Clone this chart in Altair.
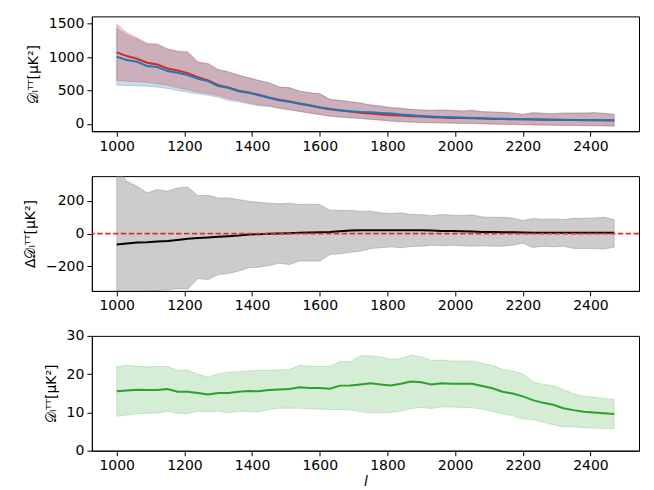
import altair as alt
import pandas as pd

ell = [1000, 1030, 1060, 1090, 1120, 1150, 1180, 1210, 1240, 1270,
       1300, 1330, 1360, 1390, 1420, 1450, 1480, 1510, 1540, 1570,
       1600, 1630, 1660, 1690, 1720, 1750, 1780, 1810, 1840, 1870,
       1900, 1930, 1960, 1990, 2020, 2050, 2080, 2110, 2140, 2170,
       2200, 2230, 2260, 2290, 2320, 2350, 2380, 2410, 2440, 2470]

# Top panel: two spectra (red, blue) with bands
red_mid = [1070, 1015, 975, 915, 890, 830, 800, 760, 700, 650,
           580, 545, 495, 470, 435, 395, 360, 335, 305, 278,
           245, 220, 200, 185, 165, 155, 140, 130, 125, 115,
           110, 100, 95, 90, 88, 85, 80, 75, 72, 70,
           68, 66, 64, 62, 60, 58, 56, 55, 54, 52]
red_hi = [1490, 1365, 1290, 1205, 1200, 1125, 1090, 1080, 930, 905,
          815, 780, 730, 690, 650, 615, 550, 540, 490, 465,
          450, 365, 350, 330, 310, 280, 265, 240, 230, 215,
          205, 200, 205, 200, 190, 200, 180, 175, 170, 160,
          140, 165, 155, 150, 160, 160, 160, 165, 155, 140]
red_lo = [650, 640, 630, 625, 600, 580, 540, 510, 475, 455,
          425, 380, 350, 315, 285, 270, 240, 215, 190, 165,
          140, 115, 100, 90, 80, 65, 55, 40, 30, 25,
          20, 15, 12, 10, 5, 5, 0, -5, -8, -10,
          -15, -18, -20, -22, -25, -25, -28, -30, -32, -35]
blue_mid = [1005, 955, 930, 865, 850, 790, 765, 730, 675, 640,
            565, 540, 490, 465, 430, 390, 355, 330, 300, 275,
            245, 225, 205, 190, 180, 175, 165, 155, 140, 130,
            120, 110, 105, 100, 95, 90, 85, 80, 78, 75,
            70, 68, 66, 64, 62, 60, 58, 57, 56, 55]
blue_hi = [1430, 1330, 1270, 1190, 1185, 1115, 1080, 1070, 920, 895,
           810, 778, 728, 690, 650, 617, 553, 543, 493, 468,
           452, 368, 353, 333, 314, 285, 270, 245, 235, 220,
           210, 205, 210, 205, 195, 205, 185, 180, 175, 165,
           145, 170, 160, 155, 165, 165, 165, 170, 160, 145]
blue_lo = [580, 575, 570, 565, 550, 530, 500, 475, 450, 430,
           400, 350, 330, 300, 270, 260, 232, 208, 185, 160,
           140, 118, 104, 95, 85, 70, 60, 46, 36, 30,
           25, 20, 17, 15, 10, 10, 5, 0, -3, -5,
           -10, -13, -15, -17, -20, -20, -23, -25, -27, -30]

# Middle panel: difference with band
diff_mid = [-67, -61, -55, -53, -49, -45, -39, -32, -28, -24,
            -20, -16, -12, -6, -4, -2, 0, 2, 4, 6,
            8, 10, 14, 18, 20, 20, 20, 20, 20, 20,
            20, 18, 16, 16, 14, 12, 10, 10, 8, 8,
            6, 4, 4, 4, 4, 4, 4, 4, 4, 4]
diff_hi = [390, 319, 288, 248, 268, 258, 278, 284, 231, 233,
           217, 217, 207, 197, 191, 185, 181, 185, 177, 179,
           177, 142, 142, 140, 136, 136, 126, 122, 126, 116,
           116, 108, 116, 112, 110, 114, 101, 99, 99, 95,
           79, 91, 87, 89, 85, 93, 93, 95, 99, 85]
diff_lo = [-430, -395, -365, -352, -348, -343, -336, -338, -274, -280,
           -250, -244, -229, -209, -205, -195, -181, -189, -168, -168,
           -168, -128, -124, -114, -108, -91, -87, -81, -87, -79,
           -77, -71, -75, -71, -75, -77, -75, -77, -77, -71,
           -59, -85, -77, -81, -77, -91, -91, -91, -95, -83]
zero_line = [0]

# Bottom panel: green spectrum with band
green_mid = [15.5, 15.75, 15.9, 15.85, 15.85, 16.1, 15.4, 15.4, 15.05, 14.7,
             15.1, 15.1, 15.4, 15.6, 15.5, 15.85, 16.0, 16.1, 16.6, 16.35,
             16.35, 16.2, 17.0, 17.05, 17.3, 17.6, 17.3, 17.05, 17.5, 18.1,
             17.9, 17.3, 17.6, 17.5, 17.5, 17.5, 16.9, 16.3, 15.4, 14.95,
             14.2, 13.2, 12.5, 12.0, 11.1, 10.6, 10.2, 10.0, 9.8, 9.6]
green_hi = [22.0, 22.3, 22.1, 21.9, 22.0, 22.0, 21.0, 21.1, 19.95, 19.25,
            20.1, 20.5, 20.65, 20.9, 21.0, 21.0, 21.1, 21.2, 22.3, 22.05,
            22.05, 22.0, 23.3, 23.3, 24.8, 24.8, 24.5, 23.9, 24.1, 25.0,
            24.5, 23.6, 23.7, 23.45, 23.45, 23.45, 22.85, 22.3, 21.25, 20.8,
            20.1, 18.0, 17.3, 17.05, 16.0, 14.9, 14.25, 14.0, 13.65, 13.4]
green_lo = [9.0, 9.3, 9.7, 9.8, 9.8, 10.3, 9.8, 9.7, 10.3, 10.2,
            10.3, 9.9, 10.3, 10.2, 10.15, 10.75, 11.1, 11.1, 11.1, 10.9,
            10.85, 10.75, 10.7, 10.7, 10.15, 9.9, 9.9, 10.0, 10.3, 11.0,
            11.3, 11.0, 11.4, 11.4, 11.3, 11.2, 10.85, 10.3, 9.6, 9.2,
            8.3, 8.1, 7.4, 6.8, 6.2, 6.2, 6.0, 5.9, 5.8, 5.8]

x_ticks = [1000, 1200, 1400, 1600, 1800, 2000, 2200, 2400]
top_ticks = [0, 500, 1000, 1500]
mid_ticks = [-200, 0, 200]
bot_ticks = [0, 10, 20, 30]

RED = "#d62728"
BLUE = "#1f77b4"
GREEN = "#2ca02c"
GRAY = "#808080"
YTITLE = "𝒟ₗᵀᵀ[μK²]"
DTITLE = "Δ𝒟ₗᵀᵀ[μK²]"

df = pd.DataFrame({
    "ell": ell,
    "red_mid": red_mid, "red_hi": red_hi, "red_lo": red_lo,
    "blue_mid": blue_mid, "blue_hi": blue_hi, "blue_lo": blue_lo,
    "diff_mid": diff_mid, "diff_hi": diff_hi, "diff_lo": diff_lo,
    "green_mid": green_mid, "green_hi": green_hi, "green_lo": green_lo,
})
df_zero = pd.DataFrame({"y": zero_line})

xscale = alt.Scale(domain=[926.5, 2543.5], nice=False, zero=False)


def xenc(title=None):
    if title:
        ax = alt.Axis(values=x_ticks, title=title, titleFontStyle="italic", format="d",
                      labelOverlap=False, titleFontWeight="normal", titlePadding=2)
    else:
        ax = alt.Axis(values=x_ticks, title=None, format="d", labelOverlap=False)
    return alt.X("ell:Q", scale=xscale, axis=ax)


def yenc(field, scale, ticks, title):
    ax = alt.Axis(values=ticks, title=title, titlePadding=8,
                  titleFontWeight="normal", format="d", labelOverlap=False)
    return alt.Y(field, scale=scale, axis=ax)


base = alt.Chart(df)

# ---- top panel
ys_top = alt.Scale(domain=[-109, 1609], nice=False, zero=False)
T = (top_ticks, YTITLE)
top = alt.layer(
    base.mark_area(fill=BLUE, fillOpacity=0.25, stroke=BLUE, strokeOpacity=0.25, strokeWidth=1).encode(
        x=xenc(), y=yenc("blue_lo:Q", ys_top, *T), y2="blue_hi:Q"),
    base.mark_area(fill=RED, fillOpacity=0.25, stroke=RED, strokeOpacity=0.25, strokeWidth=1).encode(
        x=xenc(), y=yenc("red_lo:Q", ys_top, *T), y2="red_hi:Q"),
    base.mark_line(color=RED, strokeWidth=2).encode(x=xenc(), y=yenc("red_mid:Q", ys_top, *T)),
    base.mark_line(color=BLUE, strokeWidth=2).encode(x=xenc(), y=yenc("blue_mid:Q", ys_top, *T)),
).properties(width=548, height=115)

# ---- middle panel
ys_mid = alt.Scale(domain=[-350, 350], nice=False, zero=False)
M = (mid_ticks, DTITLE)
mid = alt.layer(
    base.mark_area(fill=GRAY, fillOpacity=0.4, stroke=GRAY, strokeOpacity=0.4, strokeWidth=1, clip=True).encode(
        x=xenc(), y=yenc("diff_lo:Q", ys_mid, *M), y2="diff_hi:Q"),
    base.mark_line(color="black", strokeWidth=2, clip=True).encode(
        x=xenc(), y=yenc("diff_mid:Q", ys_mid, *M)),
    alt.Chart(df_zero).mark_rule(color="#e0302f", strokeWidth=1.7, strokeDash=[5.5, 2.4]).encode(
        y=yenc("y:Q", ys_mid, *M)),
).properties(width=548, height=115)

# ---- bottom panel
ys_bot = alt.Scale(domain=[0, 30], nice=False, zero=False)
B = (bot_ticks, YTITLE)
bot = alt.layer(
    base.mark_area(fill=GREEN, fillOpacity=0.2, stroke=GREEN, strokeOpacity=0.2, strokeWidth=1).encode(
        x=xenc("l"), y=yenc("green_lo:Q", ys_bot, *B), y2="green_hi:Q"),
    base.mark_line(color=GREEN, strokeWidth=2).encode(
        x=xenc("l"), y=yenc("green_mid:Q", ys_bot, *B)),
).properties(width=548, height=115)

chart = alt.vconcat(top, mid, bot, spacing=45, bounds="flush").properties(
    padding={"left": 15, "top": 7, "right": 5, "bottom": 5}
).configure_view(
    stroke="black", strokeWidth=1
).configure_axis(
    grid=False, domainColor="black", domainWidth=1, tickColor="black", tickSize=5,
    tickWidth=1, labelColor="black", labelFont="DejaVu Sans", labelFontSize=14,
    titleFont="DejaVu Sans", titleFontSize=14, titleColor="black", labelPadding=3,
)

chart.save("out.html", embed_options={"renderer": "svg", "actions": False})
